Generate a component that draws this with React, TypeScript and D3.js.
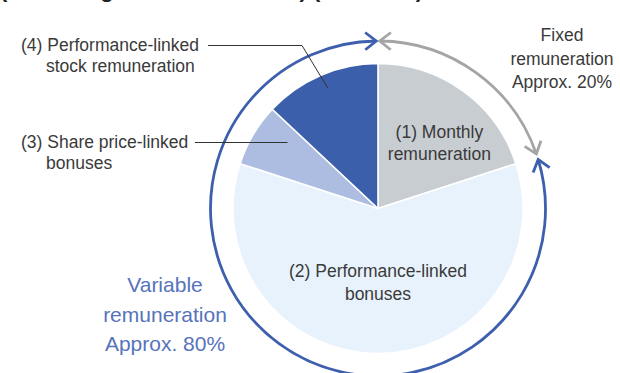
import React from "react";
import * as d3 from "d3";

const W = 620;
const H = 373;

const categories = [
  ["(1) Monthly", "remuneration"],
  ["(2) Performance-linked", "bonuses"],
  ["(3) Share price-linked", "bonuses"],
  ["(4) Performance-linked", "stock remuneration"],
];
const values = [20, 60, 7, 13];
const sliceColors = ["#c8cdd2", "#e8f2fc", "#adbde2", "#3b5fab"];
const fixedLabel = ["Fixed", "remuneration", "Approx. 20%"];
const variableLabel = ["Variable", "remuneration", "Approx. 80%"];
const titleText = "(Percentage of remuneration) (Standard)";

const FONT = "'Liberation Sans', Arial, Helvetica, sans-serif";
const TEXT = "#3a3a3a";

export default function App() {
  const cx = 378;
  const cy = 208.5;
  const R = 145;
  const ringR = 167.5;

  const pie = d3
    .pie<number>()
    .sort(null)
    .value((d) => d)
    .startAngle(0)
    .endAngle(2 * Math.PI);
  const arcs = pie(values);
  const arc = d3.arc<d3.PieArcDatum<number>>().innerRadius(0).outerRadius(R);

  const polar = (ang: number, r: number): [number, number] => [
    cx + r * Math.sin(ang),
    cy - r * Math.cos(ang),
  ];

  const fixedEnd = arcs[0].endAngle; // 20% boundary
  const deg = Math.PI / 180;
  const gap = 1.0 * deg;

  const ringArc = (a0: number, a1: number) =>
    d3.arc()({
      innerRadius: ringR,
      outerRadius: ringR,
      startAngle: a0,
      endAngle: a1,
    } as any) as string;

  const grayA0 = 0.6 * deg;
  const grayA1 = fixedEnd - gap;
  const blueA0 = fixedEnd + gap;
  const blueA1 = 2 * Math.PI - 0.6 * deg;

  // chevron arrowhead; dirSign +1 points clockwise, -1 counterclockwise
  const chevron = (ang: number, dirSign: number) => {
    const [tx, ty] = polar(ang, ringR);
    const dx = Math.cos(ang) * dirSign;
    const dy = Math.sin(ang) * dirSign;
    const L = 14;
    const spread = 38 * deg;
    const back = (s: number): [number, number] => {
      const bx = -dx;
      const by = -dy;
      const c = Math.cos(s);
      const sn = Math.sin(s);
      return [tx + L * (bx * c - by * sn), ty + L * (bx * sn + by * c)];
    };
    const p1 = back(spread);
    const p2 = back(-spread);
    return `M${p1[0]},${p1[1]}L${tx},${ty}L${p2[0]},${p2[1]}`;
  };

  const blue = "#3d5fad";
  const gray = "#a5a5a5";

  // label positions derived from slice geometry
  const lbl1 = polar(43 * deg, 90);
  const lbl2 = polar(180 * deg, 80);
  const lead4 = polar((arcs[3].startAngle + arcs[3].endAngle) / 2 + 0.8 * deg, 130);
  const lead3y = 142.5;
  const a3 = (arcs[2].startAngle + arcs[2].endAngle) / 2 + 5.5 * deg;
  const lead3 = polar(a3, 112);

  const fs = 17.5;

  return (
    <svg
      width={W}
      height={H}
      viewBox={`0 0 ${W} ${H}`}
      style={{ position: "absolute", left: 0, top: 0, background: "#fff" }}
      fontFamily={FONT}
    >
      <rect width={W} height={H} fill="#fff" />
      <text x={0} y={-3} fontSize={22} fontWeight="bold" fill="#222">
        {titleText}
      </text>

      <g transform={`translate(${cx},${cy})`}>
        {arcs.map((a, i) => (
          <path
            key={i}
            d={arc(a) as string}
            fill={sliceColors[i]}
            stroke="#fff"
            strokeWidth={1.6}
            strokeLinejoin="round"
          />
        ))}
      </g>

      {/* ring arcs */}
      <g transform={`translate(${cx},${cy})`} fill="none">
        <path d={ringArc(grayA0, grayA1)} stroke={gray} strokeWidth={2.8} />
        <path d={ringArc(blueA0, blueA1)} stroke={blue} strokeWidth={2.8} />
      </g>
      <g fill="none" strokeWidth={2.8} strokeLinecap="butt" strokeLinejoin="miter">
        <path d={chevron(grayA0, -1)} stroke={gray} />
        <path d={chevron(grayA1, 1)} stroke={gray} />
        <path d={chevron(blueA1, 1)} stroke={blue} />
        <path d={chevron(blueA0, -1)} stroke={blue} />
      </g>

      {/* slice labels */}
      <g fontSize={fs} fill={TEXT} textAnchor="middle">
        <text x={lbl1[0]} y={lbl1[1] - 5}>{categories[0][0]}</text>
        <text x={lbl1[0]} y={lbl1[1] + 17}>{categories[0][1]}</text>
        <text x={lbl2[0]} y={lbl2[1] - 11.5}>{categories[1][0]}</text>
        <text x={lbl2[0]} y={lbl2[1] + 11.5}>{categories[1][1]}</text>
      </g>

      {/* callouts */}
      <g fontSize={fs} fill={TEXT}>
        <text x={21} y={51}>{categories[3][0]}</text>
        <text x={46} y={72}>{categories[3][1]}</text>
        <text x={21} y={148}>{categories[2][0]}</text>
        <text x={46} y={168.5}>{categories[2][1]}</text>
      </g>
      <g fill="none" stroke="#333" strokeWidth={1}>
        <path d={`M208,45.5L302,45.5L${lead4[0]},${lead4[1]}`} />
        <path d={`M195,${lead3y}L${lead3[0]},${lead3y}`} />
      </g>

      {/* group labels */}
      <g fontSize={fs} fill={TEXT} textAnchor="middle">
        {fixedLabel.map((t, i) => (
          <text key={i} x={562} y={41 + i * 23.5}>{t}</text>
        ))}
      </g>
      <g fontSize={21} fill="#5673bb" textAnchor="middle">
        {variableLabel.map((t, i) => (
          <text key={i} x={165} y={292 + i * 29.5}>{t}</text>
        ))}
      </g>
    </svg>
  );
}
